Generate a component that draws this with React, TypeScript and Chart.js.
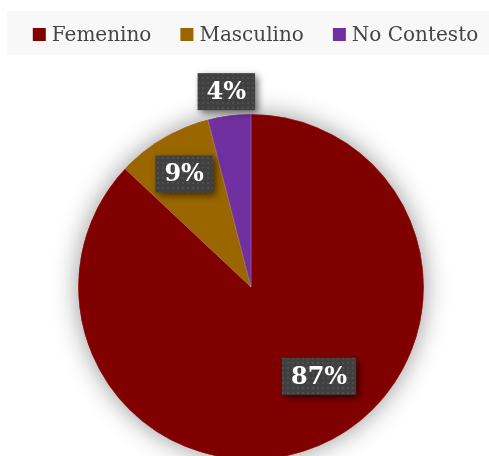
import React, { useEffect, useRef } from "react";
import { Chart, registerables } from "chart.js";

Chart.register(...registerables);

const categories = ["Femenino", "Masculino", "No Contesto"];
const values = [87, 9, 4];
const colors = ["#800000", "#996600", "#7030A0"];
// label placement (style): radial fraction of radius and angle shift (degrees) from slice middle
const labelRadialFraction = [0.65, 0.76, 1.14];
const labelAngleShiftDeg = [-13.9, 0, 0];

const LEGEND_FONT = "20px 'DejaVu Serif'";
const LABEL_FONT = "bold 24px 'DejaVu Serif'";

function makePattern(ctx: CanvasRenderingContext2D) {
  const c = document.createElement("canvas");
  c.width = 5;
  c.height = 5;
  const p = c.getContext("2d")!;
  p.fillStyle = "#404040";
  p.fillRect(0, 0, 5, 5);
  p.fillStyle = "#4f4f4f";
  p.fillRect(2, 2, 2, 2);
  return ctx.createPattern(c, "repeat");
}

const pieShadow = {
  id: "pieShadow",
  beforeDatasetsDraw(chart: any) {
    const meta = chart.getDatasetMeta(0);
    const a = meta.data[0];
    if (!a) return;
    const ctx = chart.ctx;
    ctx.save();
    ctx.shadowColor = "rgba(0,0,0,0.42)";
    ctx.shadowBlur = 26;
    ctx.fillStyle = colors[0];
    ctx.beginPath();
    ctx.arc(a.x, a.y, a.outerRadius, 0, Math.PI * 2);
    ctx.fill();
    ctx.restore();
  },
};

const dataLabels = {
  id: "dataLabels",
  afterDatasetsDraw(chart: any) {
    const meta = chart.getDatasetMeta(0);
    const ctx = chart.ctx;
    const pattern = makePattern(ctx);
    meta.data.forEach((arc: any, i: number) => {
      const mid = (arc.startAngle + arc.endAngle) / 2 + (labelAngleShiftDeg[i] * Math.PI) / 180;
      const r = arc.outerRadius * labelRadialFraction[i];
      const cx = arc.x + Math.cos(mid) * r;
      const cy = arc.y + Math.sin(mid) * r;
      const text = values[i] + "%";
      ctx.save();
      ctx.font = LABEL_FONT;
      const w = ctx.measureText(text).width + 18;
      const h = 37;
      ctx.shadowColor = "rgba(0,0,0,0.55)";
      ctx.shadowBlur = 7;
      ctx.shadowOffsetX = 3;
      ctx.shadowOffsetY = 3;
      ctx.fillStyle = pattern || "#404040";
      ctx.fillRect(cx - w / 2, cy - h / 2, w, h);
      ctx.shadowColor = "transparent";
      ctx.fillStyle = "#ffffff";
      ctx.textAlign = "center";
      ctx.textBaseline = "middle";
      ctx.fillText(text, cx, cy + 1);
      ctx.restore();
    });
  },
};

const customLegend = {
  id: "customLegend",
  afterDraw(chart: any) {
    const ctx = chart.ctx;
    ctx.save();
    ctx.fillStyle = "#f8f8f8";
    ctx.fillRect(7, 11, chart.width - 7, 44);
    ctx.font = LEGEND_FONT;
    const box = 13;
    const gapText = 6;
    const gapItem = 29;
    const widths = categories.map((c) => ctx.measureText(c).width);
    const total = widths.reduce((s, w) => s + box + gapText + w, 0) + gapItem * (categories.length - 1);
    let x = 255.5 - total / 2;
    const baseline = 41;
    categories.forEach((c, i) => {
      ctx.fillStyle = colors[i];
      ctx.fillRect(x, 28, box, box);
      x += box + gapText;
      ctx.fillStyle = "#454545";
      ctx.textAlign = "left";
      ctx.textBaseline = "alphabetic";
      ctx.fillText(c, x, baseline);
      x += widths[i] + gapItem;
    });
    ctx.restore();
  },
};

export default function App() {
  const ref = useRef<HTMLCanvasElement>(null);
  useEffect(() => {
    document.body.style.margin = "0";
    const chart = new Chart(ref.current!, {
      type: "pie",
      data: {
        labels: categories,
        datasets: [
          {
            data: values,
            backgroundColor: colors,
            borderColor: "rgba(255,255,255,0.35)",
            borderWidth: 0.5,
          },
        ],
      },
      options: {
        responsive: false,
        animation: false,
        layout: { padding: { top: 114, left: 78, right: 65, bottom: 20 } },
        plugins: {
          legend: { display: false },
          tooltip: { enabled: false },
        },
      },
      plugins: [pieShadow, dataLabels, customLegend],
    });
    return () => chart.destroy();
  }, []);
  return (
    <div style={{ position: "fixed", left: 0, top: 0, width: 489, height: 456, overflow: "hidden", background: "#fff" }}>
      <canvas ref={ref} width={489} height={480} style={{ display: "block" }} />
    </div>
  );
}
